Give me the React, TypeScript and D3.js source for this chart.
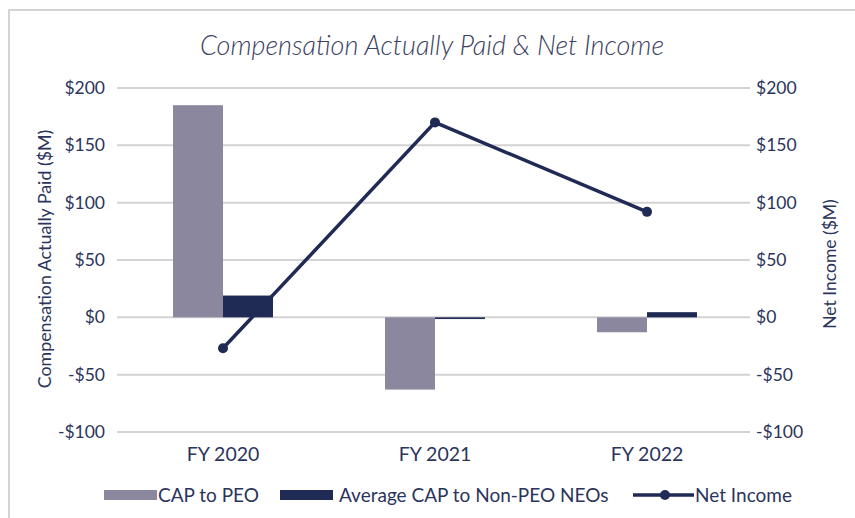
import * as d3 from "d3";

const categories = ["FY 2020", "FY 2021", "FY 2022"];
const capToPeo = [185, -63, -13];
const avgCapNonPeo = [19, -1.5, 4.5];
const netIncome = [-27, 170, 92];
const yTicks = [-100, -50, 0, 50, 100, 150, 200];
const seriesNames = ["CAP to PEO", "Average CAP to Non-PEO NEOs", "Net Income"];

const W = 855;
const H = 518;
const PLOT = { left: 117, right: 753, top: 88, bottom: 432 };
const GREY = "#8a879e";
const NAVY = "#1f2a55";
const TEXT = "#2b345c";
const FONT = "Lato, 'Open Sans', sans-serif";

const fmt = (v: number) => (v < 0 ? `-$${Math.abs(v)}` : `$${v}`);

export default function App() {
  const x = d3.scaleBand<string>().domain(categories).range([PLOT.left, PLOT.right]);
  const inner = d3
    .scaleBand<string>()
    .domain(["peo", "avg"])
    .range([x.bandwidth() / 2 - 50, x.bandwidth() / 2 + 50]);
  const y = d3.scaleLinear().domain([-100, 200]).range([PLOT.bottom, PLOT.top]);
  const yRight = d3.scaleLinear().domain([-100, 200]).range([PLOT.bottom, PLOT.top]);

  const cx = (i: number) => (x(categories[i]) ?? 0) + x.bandwidth() / 2;

  const line = d3
    .line<number>()
    .x((_, i) => cx(i))
    .y((d) => yRight(d));

  const bar = (cat: string, key: string, v: number, fill: string) => (
    <rect
      key={cat + key}
      x={(x(cat) ?? 0) + (inner(key) ?? 0)}
      width={inner.bandwidth()}
      y={y(Math.max(0, v))}
      height={Math.abs(y(v) - y(0))}
      fill={fill}
    />
  );

  return (
    <div style={{ position: "absolute", left: 0, top: 0 }}>
      <svg width={W} height={H} style={{ display: "block", fontFamily: FONT }}>
        <rect x={0} y={0} width={W} height={H} fill="#fff" />
        {/* card border */}
        <path d={`M9,${H} V10 H${W}`} fill="none" stroke="#d4d4d6" strokeWidth={2} />

        <text
          x={432}
          y={55}
          textAnchor="middle"
          fontSize={27}
          fontStyle="italic"
          fontWeight={300}
          fill="#3c4262"
        >
          Compensation Actually Paid &amp; Net Income
        </text>

        {/* gridlines */}
        {yTicks.map((t) => (
          <line
            key={t}
            x1={PLOT.left}
            x2={PLOT.right - 3}
            y1={y(t)}
            y2={y(t)}
            stroke="#d3d3d3"
            strokeWidth={2}
          />
        ))}

        {/* left axis labels */}
        {yTicks.map((t) => (
          <text key={"l" + t} x={105} y={y(t)} dy="0.35em" textAnchor="end" fontSize={17.5} fill={TEXT}>
            {fmt(t)}
          </text>
        ))}
        {/* right axis labels */}
        {yRight.ticks(6).map((t) => (
          <text key={"r" + t} x={756} y={yRight(t)} dy="0.35em" fontSize={17.5} fill={TEXT}>
            {fmt(t)}
          </text>
        ))}

        <text
          transform={`translate(45,259) rotate(-90)`}
          textAnchor="middle"
          dy="0.35em"
          fontSize={17.8}
          fill={TEXT}
        >
          Compensation Actually Paid ($M)
        </text>
        <text
          transform={`translate(830,264) rotate(-90)`}
          textAnchor="middle"
          dy="0.35em"
          fontSize={17.5}
          fill={TEXT}
        >
          Net Income ($M)
        </text>

        {/* bars */}
        {categories.map((c, i) => bar(c, "peo", capToPeo[i], GREY))}
        {categories.map((c, i) => bar(c, "avg", avgCapNonPeo[i], NAVY))}

        {/* net income line */}
        <path d={line(netIncome) ?? ""} fill="none" stroke={NAVY} strokeWidth={3.5} />
        {netIncome.map((v, i) => (
          <circle key={i} cx={cx(i)} cy={yRight(v)} r={5} fill={NAVY} />
        ))}

        {/* x labels */}
        {categories.map((c, i) => (
          <text key={c} x={cx(i)} y={454} dy="0.35em" textAnchor="middle" fontSize={19.5} fill={TEXT}>
            {c}
          </text>
        ))}

        {/* legend */}
        <g fontSize={19} fill={TEXT}>
          <rect x={104} y={490} width={53} height={10} fill={GREY} />
          <text x={158} y={495} dy="0.35em">{seriesNames[0]}</text>
          <rect x={280} y={490} width={53} height={10} fill={NAVY} />
          <text x={339} y={495} dy="0.35em">{seriesNames[1]}</text>
          <line x1={633} x2={694} y1={495} y2={495} stroke={NAVY} strokeWidth={3.5} />
          <circle cx={665} cy={495} r={5} fill={NAVY} />
          <text x={695} y={495} dy="0.35em">{seriesNames[2]}</text>
        </g>
      </svg>
    </div>
  );
}
